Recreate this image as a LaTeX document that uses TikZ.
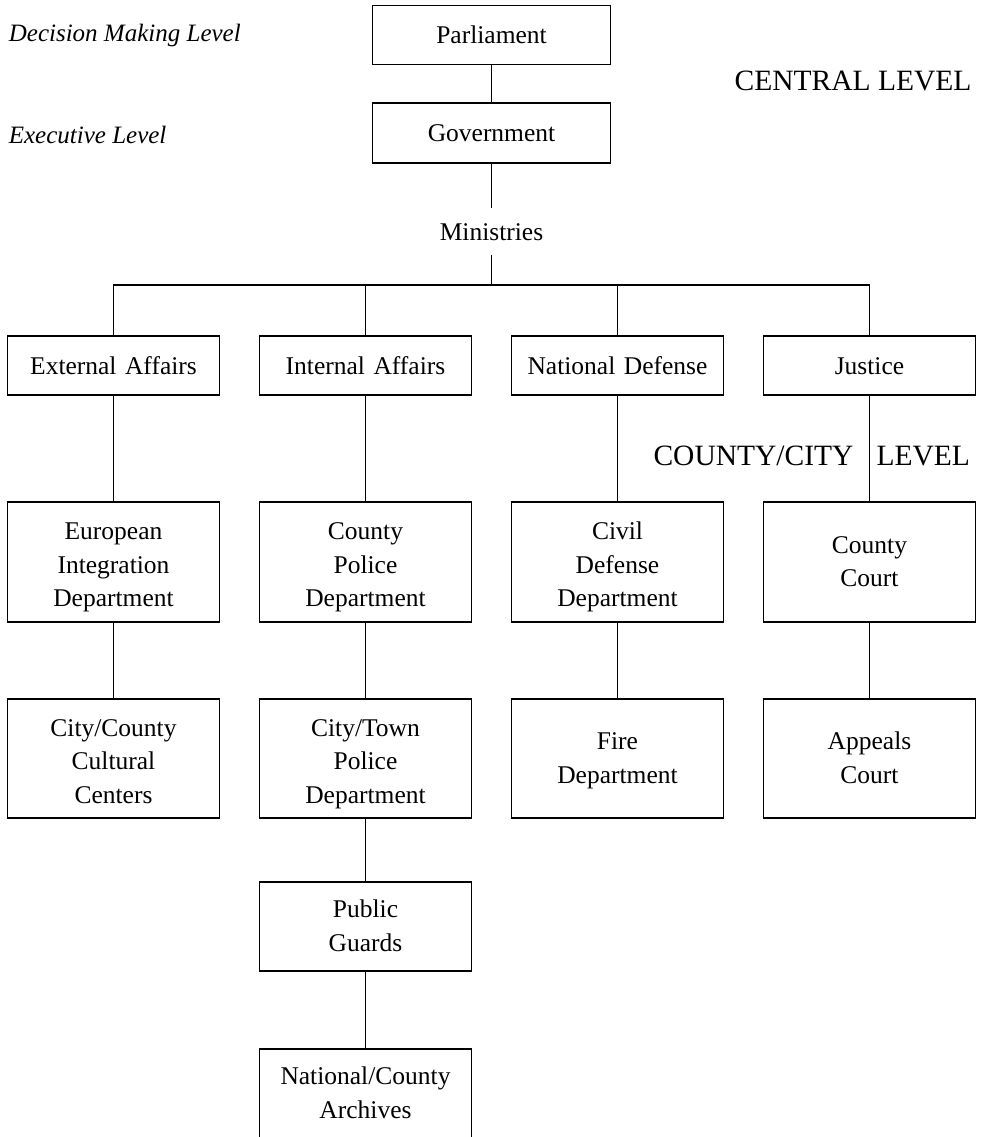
\documentclass[tikz,border=0pt]{standalone}
\usepackage{fontspec}
\setmainfont{Liberation Serif}
\begin{document}
\begin{tikzpicture}[
  x=1pt, y=-1pt,
  line width=1.1pt,
  box/.style={draw, inner sep=0pt, text width=204pt, align=center,
    minimum width=212pt, text height=17.5pt, text depth=0pt,
    font=\fontsize{25.5}{33.5}\selectfont},
  twoline/.style={box, text height=17pt, text depth=34.5pt},
  threeline/.style={box, text height=17pt, text depth=62pt},
  topbox/.style={box, minimum width=238pt},
  plain/.style={inner sep=0pt, font=\fontsize{25.5}{33.5}\selectfont},
  levelnote/.style={inner sep=0pt, font=\fontsize{25}{30}\selectfont\itshape},
  tier/.style={inner sep=0pt, font=\fontsize{29.5}{34}\selectfont},
]
\useasboundingbox (0,0) rectangle (983,1137);

% central level
\node[topbox, minimum height=59pt] (par) at (491.5,34.8) {Parliament};
\node[topbox, minimum height=60pt] (gov) at (491.5,133) {Government};
\node[plain, minimum height=45pt, text height=17.7pt, text depth=0pt] (min) at (491.5,231.5) {Ministries};
\coordinate (hub) at (491.5,285);

% ministries
\node[box, minimum height=59pt] (ext) at (113.5,365.5) {External Affairs};
\node[box, minimum height=59pt] (int) at (365.5,365.5) {Internal Affairs};
\node[box, minimum height=59pt] (nat) at (617.5,365.5) {National Defense};
\node[box, minimum height=59pt] (jus) at (869.5,365.5) {Justice};

% county/city level departments
\node[threeline, minimum height=120pt] (eid) at (113.5,562) {European\\Integration\\Department};
\node[threeline, minimum height=120pt] (cpd) at (365.5,562) {County\\Police\\Department};
\node[threeline, minimum height=120pt] (cdd) at (617.5,562) {Civil\\Defense\\Department};
\node[twoline, minimum height=120pt] (cco) at (869.5,562) {County\\Court};

\node[threeline, minimum height=119pt] (ccc) at (113.5,758.5) {City/County\\Cultural\\Centers};
\node[threeline, minimum height=119pt] (ctp) at (365.5,758.5) {City/Town\\Police\\Department};
\node[twoline, minimum height=119pt] (fire) at (617.5,758.5) {Fire\\Department};
\node[twoline, minimum height=119pt] (app) at (869.5,758.5) {Appeals\\Court};

\node[twoline, minimum height=89pt] (pg) at (365.5,926.5) {Public\\Guards};
\node[twoline, minimum height=89pt] (arc) at (365.5,1093.5) {National/County\\Archives};

% level captions
\node[levelnote, anchor=base west] (dml) at (8.3,41.7) {Decision Making Level};
\node[levelnote, anchor=base west] (exl) at (8.3,143.3) {Executive Level};
\node[tier, anchor=base east] (central) at (972,90.7) {CENTRAL LEVEL};
\node[tier, anchor=base east] (county) at (854,465.7) {COUNTY/CITY};
\node[tier, anchor=base west] (level) at (876,465.7) {LEVEL};

% connectors
\draw (par) -- (gov);
\draw (gov) -- (min);
\draw (min) -- (hub);
\draw (hub) -| (ext.north);
\draw (hub) -| (int.north);
\draw (hub) -| (nat.north);
\draw (hub) -| (jus.north);
\draw (ext) -- (eid);
\draw (int) -- (cpd);
\draw (nat) -- (cdd);
\draw (jus) -- (cco);
\draw (eid) -- (ccc);
\draw (cpd) -- (ctp);
\draw (cdd) -- (fire);
\draw (cco) -- (app);
\draw (ctp) -- (pg);
\draw (pg) -- (arc);
\end{tikzpicture}
\end{document}
